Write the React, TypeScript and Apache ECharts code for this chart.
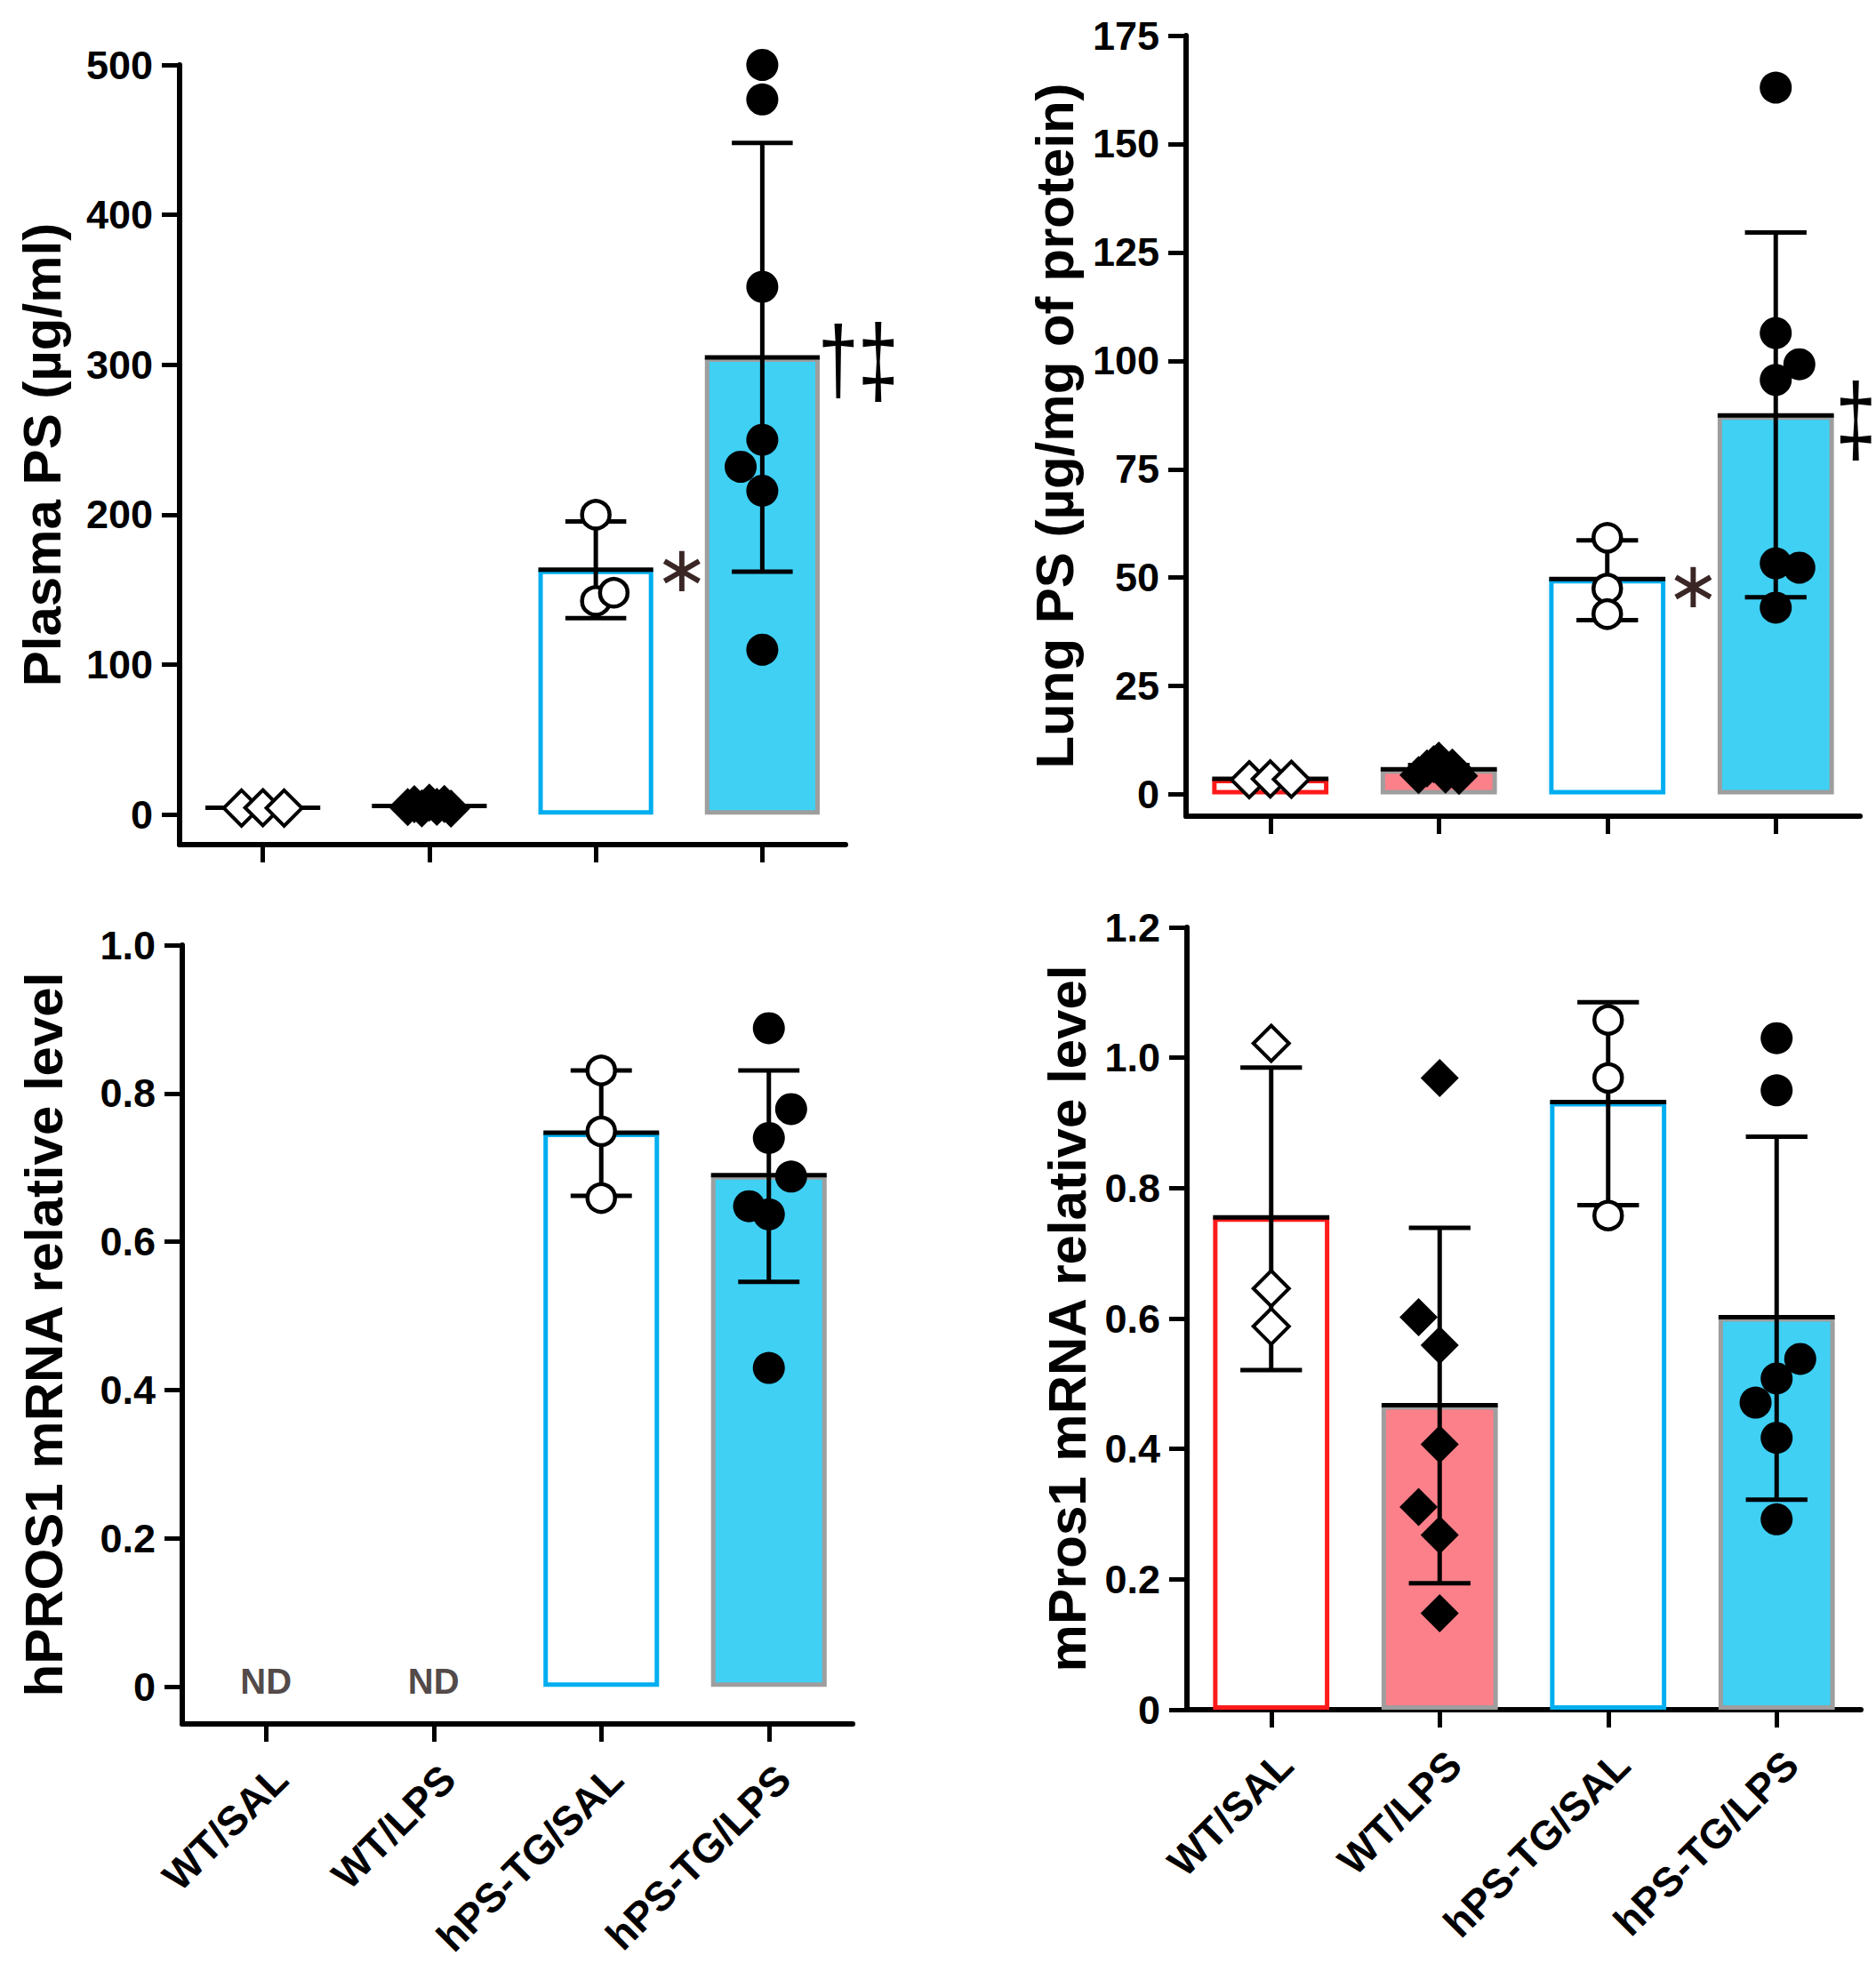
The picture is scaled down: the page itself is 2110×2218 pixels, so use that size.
import React, { useEffect, useRef } from "react";
import * as echarts from "echarts";

const categories = ["WT/SAL", "WT/LPS", "hPS-TG/SAL", "hPS-TG/LPS"];

// ---- Panel A: Plasma PS (µg/ml)
const plasmaTicks = [0, 100, 200, 300, 400, 500];
const plasmaMean = [4.6, 5.8, 163.4, 305.0];
const plasmaLow = [4.2, 5.0, 131.0, 162.0];
const plasmaHigh = [5.0, 6.6, 195.5, 448.0];
const plasmaPoints = [
  [4.4, 4.6, 4.4],
  [5.0, 7.0, 4.2, 8.0, 5.2, 7.2, 4.0],
  [200, 142.5, 148],
  [500, 477, 352, 250, 232, 216, 110],
];
const plasmaJitter = [
  [-0.128, 0, 0.128],
  [-0.13, -0.09, -0.045, 0, 0.045, 0.09, 0.13],
  [0, 0, 0.108],
  [0, 0, 0, 0, -0.13, 0, 0],
];
const plasmaMarks = [
  { x: 2.517, y: 164, text: "∗" },
  { x: 3.456, y: 304, text: "†" },
  { x: 3.697, y: 303, text: "‡" },
];

// ---- Panel B: Lung PS (µg/mg of protein)
const lungTicks = [0, 25, 50, 75, 100, 125, 150, 175];
const lungMean = [3.6, 5.8, 49.7, 87.4];
const lungLow = [3.2, 4.8, 40.2, 45.5];
const lungHigh = [4.0, 6.8, 58.6, 129.6];
const lungPoints = [
  [3.4, 3.6, 3.5],
  [4.5, 6.0, 7.0, 7.8, 4.6, 6.2, 4.3],
  [59.2, 47.5, 41.6],
  [163, 106.4, 99.2, 95.6, 52.3, 53.3, 43.1],
];
const lungJitter = [
  [-0.125, 0, 0.125],
  [-0.12, -0.07, -0.03, 0, 0.04, 0.08, 0.12],
  [0, 0, 0],
  [0, 0, 0.14, 0, 0.14, 0, 0],
];
const lungMarks = [
  { x: 2.51, y: 48.4, text: "∗" },
  { x: 3.475, y: 86.7, text: "‡" },
];

// ---- Panel C: hPROS1 mRNA relative level
const hTicks = [0, 0.2, 0.4, 0.6, 0.8, 1.0];
const hMean = [null, null, 0.747, 0.69];
const hLow = [null, null, 0.662, 0.546];
const hHigh = [null, null, 0.831, 0.831];
const hPoints = [
  [],
  [],
  [0.831, 0.749, 0.659],
  [0.888, 0.779, 0.74, 0.688, 0.648, 0.637, 0.43],
];
const hJitter = [
  [],
  [],
  [0, 0, 0],
  [0, 0.133, 0, 0.133, -0.118, 0, 0],
];

// ---- Panel D: mPros1 mRNA relative level
const mTicks = [0, 0.2, 0.4, 0.6, 0.8, 1.0, 1.2];
const mMean = [0.755, 0.467, 0.932, 0.602];
const mLow = [0.521, 0.194, 0.774, 0.322];
const mHigh = [0.985, 0.739, 1.085, 0.879];
const mPoints = [
  [1.022, 0.646, 0.588],
  [0.969, 0.602, 0.559, 0.407, 0.311, 0.268, 0.148],
  [1.058, 0.969, 0.758],
  [1.03, 0.95, 0.538, 0.508, 0.471, 0.417, 0.292],
];
const mJitter = [
  [0, 0, 0],
  [0, -0.125, 0, 0, -0.125, 0, 0],
  [0, 0, 0],
  [0, 0, 0.14, 0, -0.125, 0, 0],
];

// ---- styles
const FONT = "'Liberation Sans', Arial, Helvetica, sans-serif";
const barFill = ["#ffffff", "#fc808a", "#ffffff", "#3fd0f4"];
const barBorder = ["#ff1a1a", "#9e9e9e", "#00aeef", "#9e9e9e"];
const symbolShape = ["diamond", "diamond", "circle", "circle"];
const symbolSizes = [40, 43, 31, 36];
const symbolFill = ["#ffffff", "#000000", "#ffffff", "#000000"];
const symbolBorderW = [4, 0, 4.5, 0];
const BAR_RATIO = 0.69;
const CAP_RATIO = 0.53;

type Panel = {
  grid: { left: number; top: number; width: number; height: number };
  min: number;
  max: number;
  ticks: number[];
  decimals: boolean;
  name: string;
  nameGap: number;
  mean: (number | null)[];
  low: (number | null)[];
  high: (number | null)[];
  points: number[][];
  jitter: number[][];
  marks: { x: number; y: number; text: string }[];
  showLabels: boolean;
  hideWtBars: boolean;
};

const panels: Panel[] = [
  {
    grid: { left: 202, top: 73, width: 749, height: 877 },
    min: -20, max: 500, ticks: plasmaTicks, decimals: false,
    name: "Plasma PS (µg/ml)", nameGap: 125,
    mean: plasmaMean, low: plasmaLow, high: plasmaHigh,
    points: plasmaPoints, jitter: plasmaJitter, marks: plasmaMarks,
    showLabels: false, hideWtBars: true,
  },
  {
    grid: { left: 1334, top: 40, width: 758, height: 878 },
    min: -5, max: 175, ticks: lungTicks, decimals: false,
    name: "Lung PS (µg/mg of protein)", nameGap: 118,
    mean: lungMean, low: lungLow, high: lungHigh,
    points: lungPoints, jitter: lungJitter, marks: lungMarks,
    showLabels: false, hideWtBars: false,
  },
  {
    grid: { left: 205, top: 1063, width: 754, height: 876 },
    min: -0.05, max: 1.0, ticks: hTicks, decimals: true,
    name: "hPROS1 mRNA relative level", nameGap: 126,
    mean: hMean, low: hLow, high: hHigh,
    points: hPoints, jitter: hJitter, marks: [],
    showLabels: true, hideWtBars: false,
  },
  {
    grid: { left: 1335, top: 1043, width: 758, height: 880 },
    min: 0, max: 1.2, ticks: mTicks, decimals: true,
    name: "mPros1 mRNA relative level", nameGap: 105,
    mean: mMean, low: mLow, high: mHigh,
    points: mPoints, jitter: mJitter, marks: [],
    showLabels: true, hideWtBars: false,
  },
];

function buildOption() {
  const grid: any[] = [];
  const xAxis: any[] = [];
  const yAxis: any[] = [];
  const series: any[] = [];

  panels.forEach((p, k) => {
    grid.push({ ...p.grid, containLabel: false, outerBoundsMode: "none" });
    xAxis.push({
      type: "category",
      gridIndex: k,
      data: categories,
      boundaryGap: true,
      axisLine: { show: true, onZero: false, lineStyle: { color: "#000", width: 6 } },
      axisTick: { show: true, alignWithLabel: true, length: 20, lineStyle: { color: "#000", width: 5 } },
      axisLabel: {
        show: p.showLabels,
        rotate: 45,
        interval: 0,
        margin: 38,
        verticalAlign: "top",
        fontSize: 46,
        fontWeight: "bold",
        fontFamily: FONT,
        color: "#000",
      },
      splitLine: { show: false },
    });
    xAxis.push({
      type: "value",
      gridIndex: k,
      min: -0.5,
      max: 3.5,
      show: false,
      axisLine: { onZero: false },
    });
    yAxis.push({
      type: "value",
      gridIndex: k,
      min: p.min,
      max: p.max,
      name: p.name,
      nameLocation: "middle",
      nameGap: p.nameGap,
      nameTextStyle: { fontSize: 60, fontWeight: "bold", fontFamily: FONT, color: "#000" },
      axisLine: { show: true, onZero: false, lineStyle: { color: "#000", width: 6 } },
      axisTick: {
        show: true,
        length: 20,
        customValues: p.ticks,
        lineStyle: { color: "#000", width: 5 },
      },
      axisLabel: {
        customValues: p.ticks,
        margin: 30,
        fontSize: 45,
        fontWeight: "bold",
        fontFamily: FONT,
        color: "#000",
        formatter: (v: number) => (p.decimals ? (v === 0 ? "0" : v.toFixed(1)) : String(v)),
      },
      splitLine: { show: false },
    });

    const catX = 2 * k;
    const valX = 2 * k + 1;

    series.push({
      type: "bar",
      xAxisIndex: catX,
      yAxisIndex: k,
      barWidth: BAR_RATIO * 100 + "%",
      z: 2,
      data: p.mean.map((m, i) => ({
        value: m,
        itemStyle:
          p.hideWtBars && i < 2
            ? { color: "rgba(0,0,0,0)", borderWidth: 0 }
            : { color: barFill[i], borderColor: barBorder[i], borderWidth: 5 },
      })),
    });

    const errData: number[][] = [];
    p.mean.forEach((m, i) => {
      if (m !== null && p.low[i] !== null && p.high[i] !== null) {
        errData.push([i, m, p.low[i] as number, p.high[i] as number]);
      }
    });
    series.push({
      type: "custom",
      xAxisIndex: catX,
      yAxisIndex: k,
      z: 3,
      encode: { x: 0, y: [1, 2, 3] },
      data: errData,
      renderItem: (params: any, api: any) => {
        const idx = api.value(0);
        const pm = api.coord([idx, api.value(1)]);
        const pl = api.coord([idx, api.value(2)]);
        const ph = api.coord([idx, api.value(3)]);
        const bw = api.size([1, 0])[0] * BAR_RATIO;
        const cw = bw * CAP_RATIO;
        const x = pm[0];
        const style = { stroke: "#000", lineWidth: 5 };
        return {
          type: "group",
          children: [
            { type: "line", shape: { x1: x, y1: ph[1], x2: x, y2: pl[1] }, style },
            { type: "line", shape: { x1: x - cw / 2, y1: ph[1], x2: x + cw / 2, y2: ph[1] }, style },
            { type: "line", shape: { x1: x - cw / 2, y1: pl[1], x2: x + cw / 2, y2: pl[1] }, style },
            { type: "line", shape: { x1: x - bw / 2, y1: pm[1], x2: x + bw / 2, y2: pm[1] }, style },
          ],
        };
      },
    });

    p.points.forEach((vals, i) => {
      if (!vals.length) return;
      series.push({
        type: "scatter",
        xAxisIndex: valX,
        yAxisIndex: k,
        z: 4,
        symbol: symbolShape[i],
        symbolSize: symbolSizes[i],
        itemStyle: {
          color: symbolFill[i],
          borderColor: "#000",
          borderWidth: symbolBorderW[i],
          opacity: 1,
        },
        data: vals.map((v, j) => [i + p.jitter[i][j], v]),
      });
    });

    // ND labels for groups without data
    const ndData: any[] = [];
    p.mean.forEach((m, i) => {
      if (m === null) ndData.push({ value: [i, 0], name: "ND" });
    });
    if (ndData.length) {
      series.push({
        type: "scatter",
        xAxisIndex: valX,
        yAxisIndex: k,
        z: 5,
        symbolSize: 1,
        itemStyle: { color: "rgba(0,0,0,0)" },
        label: {
          show: true,
          position: "inside",
          offset: [0, -6],
          formatter: "{b}",
          fontSize: 40,
          fontWeight: "bold",
          fontFamily: FONT,
          color: "#241817",
        },
        data: ndData,
      });
    }

    if (p.marks.length) {
      series.push({
        type: "custom",
        xAxisIndex: valX,
        yAxisIndex: k,
        z: 5,
        clip: false,
        encode: { x: 0, y: 1 },
        data: p.marks.map((mk) => [mk.x, mk.y, mk.text]),
        dimensions: ["x", "y", { name: "t", type: "ordinal" }],
        renderItem: (params: any, api: any) => {
          const mk = p.marks[params.dataIndex];
          const pt = api.coord([mk.x, mk.y]);
          const isStar = mk.text === "∗";
          return {
            type: "text",
            x: pt[0],
            y: pt[1],
            scaleX: 1,
            scaleY: isStar ? 1 : mk.text === "‡" ? 1.38 : 1.3,
            style: {
              text: mk.text,
              fontSize: isStar ? 72 : 82,
              fontFamily: isStar ? "'DejaVu Sans', sans-serif" : FONT,
              fill: isStar ? "#3b2626" : "#000",
              align: "center",
              verticalAlign: "middle",
            },
          };
        },
      });
    }
  });

  return {
    animation: false,
    backgroundColor: "#ffffff",
    grid,
    xAxis,
    yAxis,
    series,
  };
}

export default function App() {
  const ref = useRef<HTMLDivElement>(null);
  useEffect(() => {
    document.body.style.margin = "0";
    if (!ref.current) return;
    const chart = echarts.init(ref.current, null, { renderer: "svg" });
    chart.setOption(buildOption() as any);
    return () => {
      chart.dispose();
    };
  }, []);
  return <div ref={ref} style={{ width: 2110, height: 2218, background: "#fff" }} />;
}
